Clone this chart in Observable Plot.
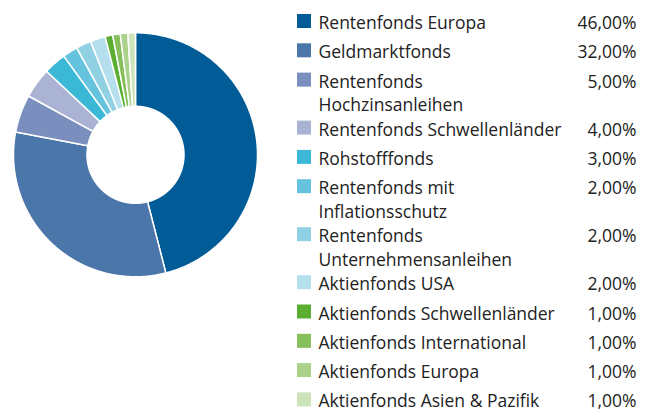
<!DOCTYPE html>
<html>
<head>
<meta charset="utf-8">
<script src="https://cdn.jsdelivr.net/npm/d3@7"></script>
<script src="https://cdn.jsdelivr.net/npm/@observablehq/plot@0.6"></script>
<style>
  html, body { margin: 0; padding: 0; background: #fff; }
  #chart { display: flex; width: 654px; height: 412px; }
  #chart svg { display: block; }
</style>
</head>
<body>
<div id="chart"></div>
<script>
// ---- data ----
const categories = [
  "Rentenfonds Europa",
  "Geldmarktfonds",
  "Rentenfonds Hochzinsanleihen",
  "Rentenfonds Schwellenländer",
  "Rohstofffonds",
  "Rentenfonds mit Inflationsschutz",
  "Rentenfonds Unternehmensanleihen",
  "Aktienfonds USA",
  "Aktienfonds Schwellenländer",
  "Aktienfonds International",
  "Aktienfonds Europa",
  "Aktienfonds Asien & Pazifik"
];
const values = [46, 32, 5, 4, 3, 2, 2, 2, 1, 1, 1, 1];
const valueLabels = ["46,00%", "32,00%", "5,00%", "4,00%", "3,00%", "2,00%", "2,00%", "2,00%", "1,00%", "1,00%", "1,00%", "1,00%"];
const legendLabels = [
  "Rentenfonds Europa",
  "Geldmarktfonds",
  "Rentenfonds\nHochzinsanleihen",
  "Rentenfonds Schwellenländer",
  "Rohstofffonds",
  "Rentenfonds mit\nInflationsschutz",
  "Rentenfonds\nUnternehmensanleihen",
  "Aktienfonds USA",
  "Aktienfonds Schwellenländer",
  "Aktienfonds International",
  "Aktienfonds Europa",
  "Aktienfonds Asien & Pazifik"
];
const colors = [
  "#005b96", "#4a76a9", "#7a8fbd", "#abb3d4", "#3bb8d6", "#66c3dd",
  "#90d1e3", "#b5dfec", "#5aaf32", "#86bf5c", "#aad28a", "#cde4bb"
];

// ---- donut geometry (derived from values) ----
const innerRatio = 48.5 / 122;
const total = d3.sum(values);
const slices = [];
let acc = 0;
values.forEach((v, i) => {
  const a0 = (acc / total) * 2 * Math.PI;
  acc += v;
  const a1 = (acc / total) * 2 * Math.PI;
  const n = Math.max(4, Math.ceil((a1 - a0) / 0.01));
  const pts = [];
  for (let k = 0; k <= n; k++) {
    const a = a0 + (a1 - a0) * k / n;
    pts.push({cat: categories[i], x: Math.sin(a), y: Math.cos(a)});
  }
  for (let k = n; k >= 0; k--) {
    const a = a0 + (a1 - a0) * k / n;
    pts.push({cat: categories[i], x: innerRatio * Math.sin(a), y: innerRatio * Math.cos(a)});
  }
  pts.push({...pts[0]});
  slices.push(...pts);
});

const color = {domain: categories, range: colors};

const pie = Plot.plot({
  width: 285,
  height: 412,
  margin: 0,
  x: {domain: [-1, 1], range: [13, 257], axis: null},
  y: {domain: [-1, 1], range: [276.3, 32.3], axis: null},
  color,
  marks: [
    Plot.line(slices, {x: "x", y: "y", z: "cat", fill: "cat", stroke: "#fff", strokeWidth: 1.5, strokeLinejoin: "round", curve: "linear"})
  ]
});

// ---- legend layout ----
const fontSize = 17.5;
const lineGap = 23.5;
const lh = lineGap / fontSize;
let base = 28.5;
const legend = legendLabels.map((lab, i) => {
  const lines = lab.split("\n").length;
  const row = {cat: categories[i], label: lab, value: valueLabels[i], baseline: base};
  base += lines > 1 ? 48 : 29.3;
  return row;
});

const leg = Plot.plot({
  width: 369,
  height: 412,
  margin: 0,
  x: {domain: [0, 369], range: [0, 369], axis: null},
  y: {domain: [0, 412], range: [0, 412], axis: null},
  color,
  style: {fontFamily: "'Open Sans', sans-serif", fontSize: fontSize + "px", color: "#222"},
  marks: [
    Plot.rect(legend, {x1: 12, x2: 26, y1: d => d.baseline - 14.5, y2: d => d.baseline - 0.5, fill: "cat"}),
    Plot.text(legend, {x: 33, y: d => d.baseline - 0.71 * lh * fontSize, text: "label", textAnchor: "start", lineAnchor: "top", lineHeight: lh, fill: "#222", fontSize}),
    Plot.text(legend, {x: 351, y: d => d.baseline - 0.71 * fontSize, text: "value", textAnchor: "end", lineAnchor: "top", fill: "#222", fontSize})
  ]
});

document.getElementById("chart").append(pie, leg);
</script>
</body>
</html>
